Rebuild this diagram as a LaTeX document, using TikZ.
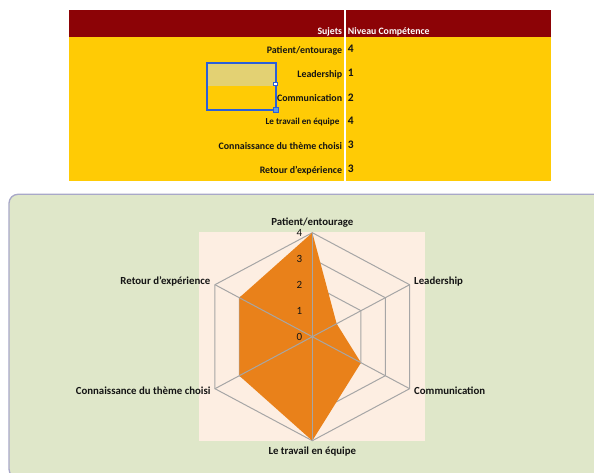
\documentclass[tikz,border=0pt]{standalone}
\usepackage{fontspec}
\setmainfont{Carlito}
\definecolor{hdrred}{HTML}{8C0306}
\definecolor{tblyellow}{HTML}{FFCB05}
\definecolor{selkhaki}{HTML}{E3D173}
\definecolor{selblue}{HTML}{2B5FD9}
\definecolor{handleblue}{HTML}{5B9BE5}
\definecolor{panelgreen}{HTML}{DFE7C9}
\definecolor{panelborder}{HTML}{A8A8C8}
\definecolor{plotpeach}{HTML}{FDEEE2}
\definecolor{gridgray}{HTML}{A6A6A6}
\definecolor{seriesorange}{HTML}{E9811A}
\definecolor{textdark}{HTML}{141414}
\tikzset{
  tbltext/.style={inner sep=0pt, font=\fontsize{9.9}{11}\selectfont\bfseries, text=textdark, anchor=mid east},
  tblnum/.style={inner sep=0pt, font=\fontsize{11.5}{13}\selectfont\bfseries, text=textdark, anchor=mid west},
  hdrtext/.style={inner sep=0pt, font=\fontsize{9.8}{11}\selectfont\bfseries, text=white},
  axlabel/.style={inner sep=0pt, font=\fontsize{10.8}{12}\selectfont\bfseries, text=textdark},
  ticklabel/.style={inner sep=0pt, font=\fontsize{11}{12}\selectfont, text=textdark},
  gridline/.style={draw=gridgray, line width=1pt},
}
\begin{document}
\begin{tikzpicture}[x=1pt, y=-1pt]
\useasboundingbox (0,0) rectangle (594,472);
\clip (0,0) rectangle (594,472);
\fill[white] (0,0) rectangle (594,472);

% ---- table ----
\fill[hdrred] (69.3,10) rectangle (550.7,37.3);
\fill[tblyellow] (69.3,37.3) rectangle (550.7,181);
\fill[white] (343.6,10) rectangle (346,181);

\node[hdrtext, anchor=mid east] (hS) at (342.3,32.3) {Sujets};
\node[hdrtext, anchor=mid west] (hN) at (347.7,32.3) {Niveau Compétence};

\node[tbltext] (t1) at (342.3,51) {Patient/entourage};
\node[tbltext] (t2) at (342.3,74.8) {Leadership};
\node[tbltext] (t3) at (342.3,99.3) {Communication};
\node[tbltext, font=\fontsize{9.1}{10}\selectfont\bfseries] (t4) at (339.6,122.5) {Le travail en équipe};
\node[tbltext] (t5) at (342.3,146.7) {Connaissance du thème choisi};
\node[tbltext] (t6) at (342.3,171) {Retour d’expérience};

\node[tblnum] (n1) at (347.6,50.5) {4};
\node[tblnum] (n2) at (347.6,74.3) {1};
\node[tblnum] (n3) at (347.6,98.8) {2};
\node[tblnum] (n4) at (347.6,122) {4};
\node[tblnum] (n5) at (347.6,146.2) {3};
\node[tblnum] (n6) at (347.6,170.5) {3};

% selection box
\fill[selkhaki] (206.7,62.7) rectangle (275.7,86);
\draw[selblue, line width=1.8pt] (206.7,62.7) rectangle (275.7,110);
\draw[selblue, fill=white, line width=0.7pt] (273.7,82.8) rectangle (277.7,85.2);
\draw[selblue, fill=handleblue, line width=0.7pt] (273.2,107.5) rectangle (278.2,112.5);

% ---- chart panel ----
\draw[rounded corners=9pt, fill=panelgreen, draw=panelborder, line width=1.3pt] (9,194.3) rectangle (640,478);
\fill[plotpeach] (199,231.7) rectangle (425.3,440.6);

\coordinate (c) at (312.3,336.7);
\begin{scope}[shift={(c)}, x=28.1pt, y=26pt]
  \foreach \r in {1,2,3,4}
    \draw[gridline] (90:\r) -- (30:\r) -- (-30:\r) -- (-90:\r) -- (-150:\r) -- (150:\r) -- cycle;
  \fill[seriesorange] (90:4) -- (30:1) -- (-30:2) -- (-90:4) -- (-150:3) -- (150:3) -- cycle;
  \foreach \a in {90,30,-30,-90,-150,150}
    \draw[gridline] (0,0) -- (\a:4);
\end{scope}

\foreach \k in {0,1,2,3,4}
  \node[ticklabel] (tick\k) at (299.3,{336.7-26*\k}) {\k};

\node[axlabel, anchor=mid] (aP) at (312.3,222.7) {Patient/entourage};
\node[axlabel, anchor=mid west] (aL) at (414,282.3) {Leadership};
\node[axlabel, anchor=mid west] (aC) at (414,391.7) {Communication};
\node[axlabel, anchor=mid] (aT) at (312.3,451.7) {Le travail en équipe};
\node[axlabel, anchor=mid east] (aK) at (210.7,391.7) {Connaissance du thème choisi};
\node[axlabel, anchor=mid east] (aR) at (210.5,282.3) {Retour d’expérience};
\end{tikzpicture}
\end{document}
